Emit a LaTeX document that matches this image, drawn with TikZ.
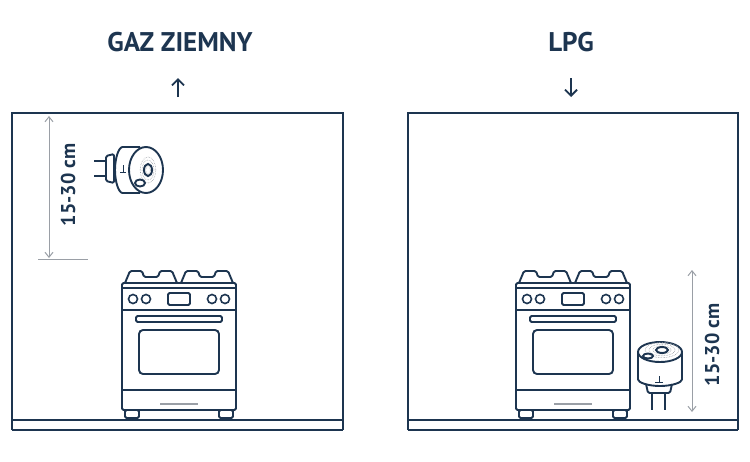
\documentclass[tikz,border=0pt]{standalone}
\usepackage{fontspec}
\setmainfont{PT Sans}
\usetikzlibrary{arrows.meta}
\definecolor{navy}{HTML}{1D3550}
\definecolor{dimgray}{HTML}{9A9FA6}
\tikzset{
  wall/.style={navy, line width=2.2pt},
  line/.style={navy, line width=1.9pt, rounded corners=1.5pt},
  dim/.style={dimgray, line width=1pt, <->, >={Straight Barb[length=5pt,width=8pt]}},
  title/.style={navy, font=\bfseries\fontsize{27}{27}\selectfont},
  dimlabel/.style={navy, font=\bfseries\fontsize{20}{20}\selectfont, rotate=90},
  pics/stove/.style={code={
    % cooktop grates
    \foreach \gx in {0,56} {
      \draw[line] (\gx+3,-283) -- (\gx+8,-271) -- (\gx+20,-271) -- (\gx+22,-277)
        -- (\gx+36,-277) -- (\gx+38,-271) -- (\gx+50,-271) -- (\gx+55,-283);
    }
    % body
    \draw[line] (0,-283) rectangle (114,-410);
    \draw[line] (0,-288) -- (114,-288);
    \draw[line] (0,-310) -- (114,-310);
    \foreach \kx in {11,24,90,103} \draw[navy, line width=1.6pt] (\kx,-299) circle (4.5pt);
    \draw[line] (46,-293) rectangle (68,-305);
    \draw[line] (14,-316) rectangle (100,-322);
    \draw[line, rounded corners=4pt] (17,-330) rectangle (97,-374);
    \draw[line] (0,-390) -- (114,-390);
    \draw[dimgray, line width=2pt] (38,-404) -- (76,-404);
    \draw[line] (3,-410) rectangle (17,-418);
    \draw[line] (97,-410) rectangle (111,-418);
  }}
}
\begin{document}
\begin{tikzpicture}[x=1pt, y=1pt]
\useasboundingbox[fill=white] (0,0) rectangle (750,-461);

% titles
\node[title] (gas) at (180,-42) {GAZ ZIEMNY};
\node[title] (lpg) at (571,-42) {LPG};
\coordinate (upA) at (178,-97); \coordinate (upB) at (178,-78);
\coordinate (dnA) at (571,-78); \coordinate (dnB) at (571,-97);
\draw[navy, line width=1.8pt, ->, >={Straight Barb[length=6pt,width=12pt]}] (upA) -- (upB);
\draw[navy, line width=1.8pt, ->, >={Straight Barb[length=6pt,width=12pt]}] (dnA) -- (dnB);

% rooms
\draw[wall] (12,-430) -- (12,-113) -- (343,-113) -- (343,-430);
\draw[wall] (12,-420) -- (343,-420);
\draw[wall] (12,-430) -- (343,-430);
\draw[wall] (408,-430) -- (408,-113) -- (738,-113) -- (738,-430);
\draw[wall] (408,-420) -- (738,-420);
\draw[wall] (408,-430) -- (738,-430);

% stoves
\pic at (122,0) {stove};
\pic at (516,0) {stove};

% left: natural gas, near ceiling
\coordinate (dimLtop) at (49,-116); \coordinate (dimLbot) at (49,-258);
\draw[dim] (dimLtop) -- (dimLbot);
\draw[dimgray, line width=0.8pt] (38,-259) -- (88,-259);
\node[dimlabel] (labL) at (68,-185) {15-30 cm};
% detector (side view)
\draw[line] (94,-161) -- (106,-161);
\draw[line] (94,-176) -- (106,-176);
\draw[line] (106,-156) -- (114,-154) -- (114,-183) -- (106,-181) -- cycle;
\draw[line] (140,-147) -- (124,-147) arc (90:270:9 and 23) -- (140,-193);
\draw[line, fill=white] (146,-170) ellipse (17 and 23);
\foreach \r in {4,7,10,13} \draw[dimgray, densely dotted, line width=0.6pt] (148,-170) ellipse ({0.6*\r} and {\r});
\draw[line] (148,-170) ellipse (4 and 6);
\draw[line] (140,-183) ellipse (5 and 3.5);
\draw[navy, line width=1pt] (123,-165) -- (123,-172) (120,-172) -- (126,-172);

% right: LPG, near floor
\coordinate (dimRtop) at (692,-270); \coordinate (dimRbot) at (692,-412);
\draw[dim] (dimRtop) -- (dimRbot);
\node[dimlabel] (labR) at (712,-345) {15-30 cm};
% detector (front view)
\draw[line] (652,-392) -- (652,-410);
\draw[line] (665,-392) -- (665,-410);
\draw[line] (646,-384) -- (648,-393) -- (670,-393) -- (672,-384);
\draw[line] (638,-352) -- (638,-378) arc (180:360:22 and 8) -- (682,-352);
\draw[line, fill=white] (660,-352) ellipse (22 and 10);
\foreach \r in {5,9,13,17} \draw[dimgray, densely dotted, line width=0.6pt] (662,-350) ellipse ({\r} and {0.45*\r});
\draw[line] (662,-350) ellipse (6 and 3);
\draw[line] (648,-356) ellipse (5 and 2.5);
\draw[navy, line width=1pt] (659,-376) -- (659,-382) (655,-382) -- (663,-382);
\end{tikzpicture}
\end{document}
